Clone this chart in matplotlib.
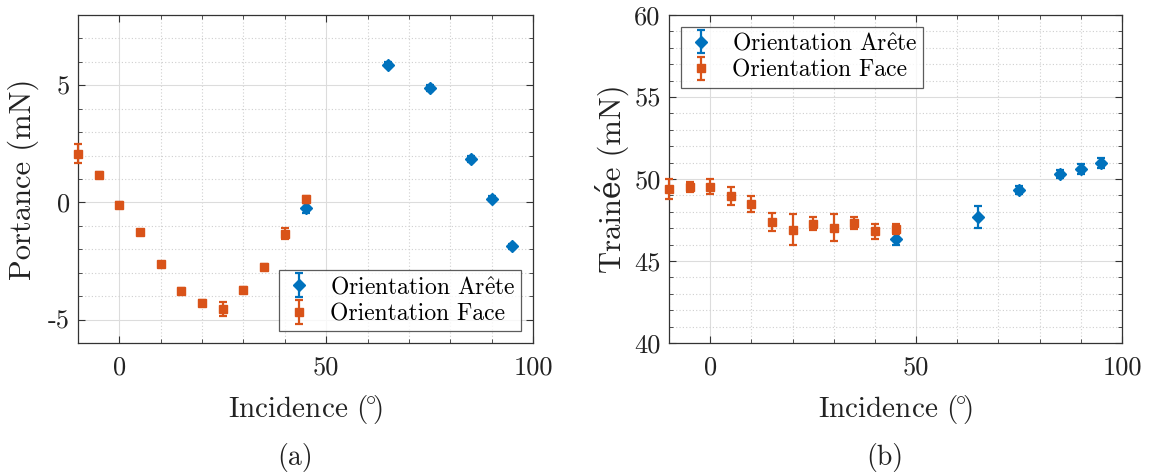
import matplotlib
matplotlib.use("Agg")
import matplotlib.pyplot as plt
from matplotlib.ticker import MultipleLocator, FuncFormatter

plt.rcParams['font.family'] = ['cmr10', 'DejaVu Serif']
plt.rcParams['mathtext.fontset'] = 'cm'
plt.rcParams['axes.formatter.use_mathtext'] = True

BLUE = '#0072BD'
ORANGE = '#D95319'

# Data
face_x = [-10, -5, 0, 5, 10, 15, 20, 25, 30, 35, 40, 45]
face_lift = [2.08, 1.19, -0.10, -1.26, -2.64, -3.76, -4.30, -4.56, -3.72, -2.74, -1.33, 0.13]
face_lift_err = [0.40, 0.10, 0.10, 0.10, 0.10, 0.10, 0.12, 0.30, 0.12, 0.10, 0.22, 0.15]
arete_x = [45, 65, 75, 85, 90, 95]
arete_lift = [-0.23, 5.88, 4.89, 1.86, 0.16, -1.88]
arete_lift_err = [0.22, 0.12, 0.12, 0.12, 0.12, 0.12]

face_drag = [49.39, 49.53, 49.53, 48.99, 48.48, 47.37, 46.92, 47.27, 47.04, 47.31, 46.80, 46.96]
face_drag_err = [0.60, 0.30, 0.45, 0.55, 0.50, 0.53, 0.94, 0.40, 0.80, 0.38, 0.43, 0.30]
arete_drag = [46.36, 47.67, 49.35, 50.30, 50.60, 50.95]
arete_drag_err = [0.40, 0.67, 0.25, 0.25, 0.30, 0.30]

label_arete = r'Orientation Ar$\hat{\mathrm{e}}$te'
label_face = 'Orientation Face'
xlabel = r'Incidence ($\!^{\circ}\!$)'

W, H = 1151, 473
fig = plt.figure(figsize=(W / 100, H / 100), dpi=100)

def px_axes(l, r, t, b):
    return fig.add_axes([l / W, 1 - b / H, (r - l) / W, (b - t) / H])

ax1 = px_axes(78, 533, 15, 343)
ax2 = px_axes(669, 1122, 15, 343)

fmt = FuncFormatter(lambda v, p: '%d' % round(v))

def style(ax, ylim, ymajor):
    ax.set_xlim(-10, 100)
    ax.set_ylim(*ylim)
    ax.xaxis.set_major_locator(MultipleLocator(50))
    ax.xaxis.set_minor_locator(MultipleLocator(10))
    ax.yaxis.set_major_locator(MultipleLocator(ymajor))
    ax.yaxis.set_minor_locator(MultipleLocator(1))
    ax.xaxis.set_major_formatter(fmt)
    ax.yaxis.set_major_formatter(fmt)
    ax.grid(True, which='major', color='#dcdcdc', linewidth=0.8, linestyle='-')
    ax.grid(True, which='minor', color='#cfcfcf', linewidth=0.8, linestyle=(0, (1, 2)))
    ax.set_axisbelow(True)
    ax.tick_params(which='both', direction='in', top=True, right=True, labelsize=19, color='#333333',
                   labelcolor='#222222')
    ax.tick_params(axis='x', which='major', pad=9)
    ax.tick_params(axis='y', which='major', pad=6)
    ax.tick_params(which='major', length=5)
    ax.tick_params(which='minor', length=3)
    for s in ax.spines.values():
        s.set_color('#333333')
        s.set_linewidth(0.9)
    ax.set_xlabel(xlabel, fontsize=21, labelpad=10, color='#222222')

def plot_series(ax, fy, fe, ay, ae):
    ha = ax.errorbar(arete_x, ay, yerr=ae, fmt='D', color=BLUE, markersize=6,
                     capsize=3, elinewidth=1.6, capthick=1.6, label=label_arete, zorder=3)
    hf = ax.errorbar(face_x, fy, yerr=fe, fmt='s', color=ORANGE, markersize=6,
                     capsize=3, elinewidth=1.6, capthick=1.6, label=label_face, zorder=4)
    for h in (ha, hf):
        for art in h.get_children():
            art.set_clip_on(False)
    return ha, hf

plot_series(ax1, face_lift, face_lift_err, arete_lift, arete_lift_err)
style(ax1, (-6, 8), 5)
ax1.set_ylabel('Portance (mN)', fontsize=22, labelpad=6, color='#222222')
leg1 = ax1.legend(loc='lower right', fontsize=17, frameon=True, fancybox=False,
                  edgecolor='#333333', borderaxespad=0.5, handletextpad=0.7, borderpad=0.25,
                  labelspacing=0.2, handlelength=1.2)
leg1.get_frame().set_linewidth(0.9)

plot_series(ax2, face_drag, face_drag_err, arete_drag, arete_drag_err)
style(ax2, (40, 60), 5)
ax2.set_ylabel('Trainée (mN)', fontsize=22, labelpad=4, color='#222222')
leg2 = ax2.legend(loc='upper left', fontsize=17, frameon=True, fancybox=False,
                  edgecolor='#333333', borderaxespad=0.5, handletextpad=0.7, borderpad=0.25,
                  labelspacing=0.2, handlelength=1.2)
leg2.get_frame().set_linewidth(0.9)

fig.text(295 / W, 1 - 457 / H, '(a)', ha='center', va='center', fontsize=20, color='#222222')
fig.text(885 / W, 1 - 457 / H, '(b)', ha='center', va='center', fontsize=20, color='#222222')

fig.savefig('out.png', dpi=100)
